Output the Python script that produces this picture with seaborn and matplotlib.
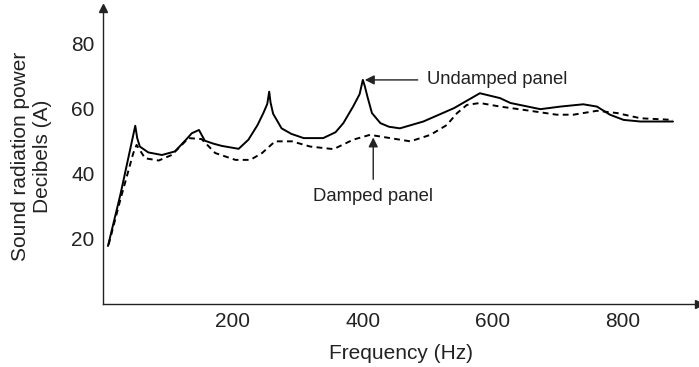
import pandas as pd
import seaborn as sns
import matplotlib.pyplot as plt

# values
undamped_freq = [8, 27, 50, 53, 57, 70, 91, 111, 128, 137, 148, 152, 157, 170, 183, 209,
                 224, 238, 247, 253, 256, 258, 262, 275, 290, 309, 339, 358, 370, 385,
                 395, 400, 403, 407, 414, 427, 440, 457, 493, 540, 580, 611, 627, 673,
                 704, 739, 760, 780, 801, 827, 877]
undamped_db = [17.8, 33.5, 54.8, 51.0, 48.4, 46.6, 45.8, 46.9, 50.5, 52.5, 53.5, 52.0,
               50.2, 49.3, 48.6, 47.7, 50.5, 55.0, 58.7, 61.5, 65.3, 62.0, 58.5, 54.0,
               52.3, 51.0, 51.0, 52.8, 55.6, 60.7, 64.5, 68.9, 67.0, 63.8, 58.7, 55.6,
               54.5, 54.0, 56.1, 60.2, 64.8, 63.3, 61.8, 59.9, 60.7, 61.4, 60.7, 58.2,
               56.6, 56.1, 56.1]

damped_freq = [9, 27, 47, 52, 65, 86, 106, 132, 152, 173, 204, 227, 245, 265, 291,
               319, 355, 385, 411, 442, 473, 504, 529, 545, 560, 580, 611, 647,
               698, 724, 760, 791, 827, 877]
damped_db = [18.2, 32.0, 46.4, 48.9, 44.8, 44.1, 45.8, 51.0, 50.7, 46.4, 44.3, 44.3,
             46.4, 50.0, 50.0, 48.4, 47.6, 50.5, 52.0, 51.0, 50.0, 52.0, 55.0, 58.7,
             61.2, 61.8, 60.7, 59.7, 58.2, 58.2, 59.4, 58.7, 57.1, 56.6]

x_ticks = [200, 400, 600, 800]
y_ticks = [20, 40, 60, 80]

df = pd.concat([
    pd.DataFrame({"freq": undamped_freq, "db": undamped_db, "panel": "Undamped"}),
    pd.DataFrame({"freq": damped_freq, "db": damped_db, "panel": "Damped"}),
])

sns.set_style("white")
plt.rcParams['font.family'] = ['Liberation Sans', 'DejaVu Sans']

fig = plt.figure(figsize=(6.99, 3.67), dpi=100)
ax = fig.add_axes([0.147, 0.172, 0.853, 0.806])

sns.lineplot(data=df, x="freq", y="db", style="panel", color="black",
             dashes={"Undamped": "", "Damped": (3, 2.2)}, linewidth=1.4,
             legend=False, sort=False, ax=ax)

ax.set_xlim(0, 917)
ax.set_ylim(0, 91)
ax.set_xticks(x_ticks)
ax.set_yticks(y_ticks)
ax.tick_params(direction="in", length=7, width=1, colors="#222", labelsize=15, pad=6)
for s in ["top", "right"]:
    ax.spines[s].set_visible(False)
for s in ["left", "bottom"]:
    ax.spines[s].set_color("#222")
    ax.spines[s].set_linewidth(1)

# arrow heads on the axes
ax.plot(1, 0, ">", color="#222", ms=6, transform=ax.get_yaxis_transform(), clip_on=False)
ax.plot(0, 1, "^", color="#222", ms=6, transform=ax.get_xaxis_transform(), clip_on=False)

ax.set_xlabel("Frequency (Hz)", fontsize=15, color="#222", labelpad=9)
ax.set_ylabel("Sound radiation power\nDecibels (A)", fontsize=15, color="#222", labelpad=14)

ax.annotate("Undamped panel", xy=(403, 68.9), xytext=(498, 68.9), fontsize=13.3,
            color="#222", va="center", ha="left",
            arrowprops=dict(arrowstyle="-|>", color="#222", lw=1, shrinkA=4, shrinkB=0,
                            mutation_scale=14))
ax.annotate("Damped panel", xy=(416, 51.2), xytext=(416, 33), fontsize=13.3,
            color="#222", va="center", ha="center",
            arrowprops=dict(arrowstyle="-|>", color="#222", lw=1, shrinkA=4, shrinkB=0,
                            mutation_scale=14))

fig.savefig("out.png", dpi=100)
